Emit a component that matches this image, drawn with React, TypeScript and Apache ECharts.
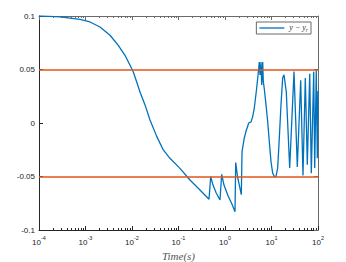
import React, { useEffect, useRef } from "react";
import * as echarts from "echarts";

// time (s) and tracking error y - y_r
const TIME = [
  0.0001, 0.000173, 0.000283, 0.000464, 0.000762, 0.00125, 0.00205, 0.00337, 0.00507, 0.00707, 0.00906,
  0.01067, 0.01262, 0.01486, 0.01905, 0.02438, 0.03398, 0.0471, 0.0656, 0.1076, 0.1766, 0.2897, 0.453,
  0.493, 0.552, 0.64, 0.78, 0.849, 0.951, 1.161, 1.416, 1.641, 1.699, 1.857, 2.031, 2.244,
  2.323, 2.399, 2.6, 2.818, 3.236, 3.631, 3.936, 4.266, 4.786, 5.309,
  5.458, 5.662, 5.943, 6.152, 6.471, 6.668, 6.998, 7.621, 8.279, 8.974,
  9.75, 10.62, 11.48, 12.5, 13.58, 14.72, 16.0, 17.38, 18.58, 20.8,
  24.6, 30.48, 35.89, 42.46, 47.53, 53.33, 58.88, 66.37, 71.78, 80.91,
  84.92, 91.83, 96.61, 100,
];
const ERROR = [
  0.1, 0.0997, 0.0991, 0.0981, 0.0969, 0.0944, 0.0897, 0.082, 0.0726, 0.0633, 0.0539,
  0.0477, 0.0383, 0.029, 0.0169, 0.0028, -0.0125, -0.0252, -0.033, -0.0424, -0.0533, -0.0626, -0.0713,
  -0.05, -0.058, -0.065, -0.072, -0.048, -0.058, -0.068, -0.076, -0.083, -0.037, -0.05, -0.058, -0.067,
  -0.027, -0.023, -0.014, -0.008, 0.0, 0.001, 0.006, 0.014, 0.032, 0.051,
  0.057, 0.045, 0.057, 0.0355, 0.057, 0.0386, 0.032, 0.017, 0.0012, -0.0175,
  -0.036, -0.047, -0.05, -0.05, -0.042, -0.014, 0.017, 0.042, 0.045, 0.029,
  -0.042, 0.048, -0.041, 0.04, -0.049, 0.042, -0.039, 0.046, -0.047, 0.048,
  -0.042, 0.0495, -0.033, 0.03,
];
const THRESHOLDS = [0.05, -0.05];
const X_MAJOR = [1e-4, 1e-3, 1e-2, 1e-1, 1, 10, 100];
const SERIES_NAME = "y - y_r";

const X_MINOR: number[] = [];
for (let k = -4; k <= 1; k++) {
  for (let m = 2; m <= 9; m++) X_MINOR.push(m * Math.pow(10, k));
}

export default function App() {
  const ref = useRef<HTMLDivElement>(null);
  useEffect(() => {
    document.body.style.margin = "0";
    const chart = echarts.init(ref.current!, null, { renderer: "svg" });
    const axisColor = "#262626";
    const boxColor = "#6a6a6a";
    const labelFont = "Liberation Sans";
    const baseX = {
      type: "log" as const,
      logBase: 10,
      min: 1e-4,
      max: 100,
      splitLine: { show: false },
      gridIndex: 0,
    };
    const baseY = {
      type: "value" as const,
      min: -0.1,
      max: 0.1,
      interval: 0.05,
      splitLine: { show: false },
    };
    chart.setOption({
      animation: false,
      backgroundColor: "#ffffff",
      grid: { left: 39, right: 28, top: 16, bottom: 32, containLabel: false, outerBoundsMode: "none" },
      legend: {
        data: [{ name: SERIES_NAME, icon: "rect" }],
        right: 35,
        top: 22,
        itemWidth: 25,
        itemHeight: 1.3,
        itemGap: 4,
        padding: [1, 3, 1, 3],
        borderColor: "#444",
        borderWidth: 0.8,
        borderRadius: 0,
        backgroundColor: "#fff",
        formatter: () => "{i|y − y}{r|r}",
        textStyle: {
          rich: {
            i: { fontFamily: "Liberation Serif", fontStyle: "italic", fontSize: 8, color: "#333", verticalAlign: "top" },
            r: { fontFamily: "Liberation Serif", fontStyle: "italic", fontSize: 5.5, color: "#333", padding: [4, 0, 0, 0], verticalAlign: "top" },
          },
        },
      },
      xAxis: [
        {
          ...baseX,
          position: "bottom",
          name: "Time(s)",
          nameLocation: "middle",
          nameGap: 15,
          nameTextStyle: { fontFamily: "Liberation Serif", fontStyle: "italic", fontSize: 11, color: "#555" },
          axisLine: { show: true, onZero: false, lineStyle: { color: axisColor, width: 1 } },
          axisTick: { show: true, inside: true, length: 4, customValues: X_MAJOR, lineStyle: { color: axisColor } },
          axisLabel: {
            show: true,
            customValues: X_MAJOR,
            margin: 5,
            formatter: (v: number) => "{b|10}{s|" + Math.round(Math.log10(v)) + "}",
            rich: {
              b: { fontFamily: labelFont, fontSize: 8, color: "#222", verticalAlign: "bottom" },
              s: { fontFamily: labelFont, fontSize: 5.5, color: "#222", padding: [0, 0, 5, 0], verticalAlign: "bottom" },
            },
          },
        },
        {
          ...baseX,
          position: "bottom",
          axisLine: { show: false, onZero: false },
          axisTick: { show: true, inside: true, length: 2, customValues: X_MINOR, lineStyle: { color: axisColor } },
          axisLabel: { show: false },
        },
        {
          ...baseX,
          position: "top",
          axisLine: { show: true, onZero: false, lineStyle: { color: boxColor, width: 1 } },
          axisTick: { show: true, inside: true, length: 4, customValues: X_MAJOR, lineStyle: { color: boxColor } },
          axisLabel: { show: false },
        },
        {
          ...baseX,
          position: "top",
          axisLine: { show: false, onZero: false },
          axisTick: { show: true, inside: true, length: 2, customValues: X_MINOR, lineStyle: { color: boxColor } },
          axisLabel: { show: false },
        },
      ],
      yAxis: [
        {
          ...baseY,
          position: "left",
          axisLine: { show: true, onZero: false, lineStyle: { color: axisColor, width: 1 } },
          axisTick: { show: true, inside: true, length: 4, lineStyle: { color: axisColor } },
          axisLabel: { show: true, margin: 4, fontFamily: labelFont, fontSize: 8, color: "#222" },
        },
        {
          ...baseY,
          position: "right",
          axisLine: { show: true, onZero: false, lineStyle: { color: boxColor, width: 1 } },
          axisTick: { show: true, inside: true, length: 4, lineStyle: { color: boxColor } },
          axisLabel: { show: false },
        },
      ],
      series: [
        {
          name: SERIES_NAME,
          type: "line",
          xAxisIndex: 0,
          yAxisIndex: 0,
          data: TIME.map((t, i) => [t, ERROR[i]]),
          showSymbol: false,
          symbol: "none",
          lineStyle: { color: "#0072BD", width: 1.3 },
          itemStyle: { color: "#0072BD" },
          z: 3,
        },
        {
          name: "limits",
          type: "line",
          xAxisIndex: 0,
          yAxisIndex: 0,
          data: [],
          z: 2,
          markLine: {
            symbol: "none",
            silent: true,
            label: { show: false },
            lineStyle: { color: "#E0561C", type: "solid", width: 1.5 },
            data: THRESHOLDS.map((v) => ({ yAxis: v })),
          },
        },
      ],
    });
    return () => chart.dispose();
  }, []);
  return <div ref={ref} style={{ width: 346, height: 262 }} />;
}
